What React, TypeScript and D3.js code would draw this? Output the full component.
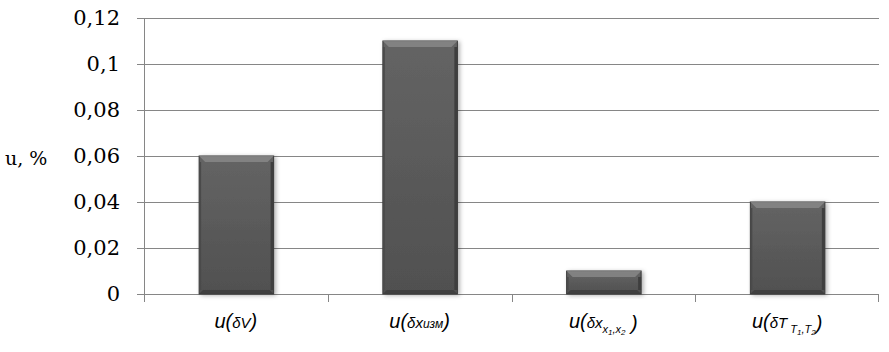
import { useEffect, useRef } from "react"
import * as d3 from "d3"

const categories = ["dV", "dXizm", "dXx1x2", "dTT1T2"]
const values = [0.06, 0.11, 0.01, 0.04]
const yTicks = [0, 0.02, 0.04, 0.06, 0.08, 0.1, 0.12]

const SERIF = "'DejaVu Serif', serif"

// label parts: [text, fontSize, dy]
const labelParts: Array<Array<[string, number, number]>> = [
  [["u", 20, 0], ["(", 20, 0], ["δV", 15, 0], [")", 20, 0]],
  [["u", 20, 0], ["(", 20, 0], ["δx", 15, 0], ["изм", 12, 0], [")", 20, 0]],
  [["u", 20, 0], ["(", 20, 0], ["δx", 15, 0], ["x", 11, 5], ["1", 8, 2], [",x", 11, -2], ["2", 8, 2], [" )", 20, -5]],
  [["u", 20, 0], ["(", 20, 0], ["δT", 15, 0], [" T", 11, 5], ["1", 8, 2], [",T", 11, -2], ["2", 8, 2], [")", 20, -5]],
]

export default function App() {
  const svgRef = useRef<SVGSVGElement>(null)

  useEffect(() => {
    if (!svgRef.current) return
    const W = 889
    const H = 352
    const margin = { top: 18, right: 10, bottom: 58, left: 144 }
    const width = W - margin.left - margin.right
    const height = H - margin.top - margin.bottom

    const root = d3.select(svgRef.current)
    root.selectAll("*").remove()
    root.attr("width", W).attr("height", H)

    const defs = root.append("defs")
    const grad = defs.append("linearGradient").attr("id", "barGrad")
      .attr("x1", "0%").attr("y1", "0%").attr("x2", "0%").attr("y2", "100%")
    grad.append("stop").attr("offset", "0%").attr("stop-color", "#646464")
    grad.append("stop").attr("offset", "100%").attr("stop-color", "#505050")
    const sh = defs.append("filter").attr("id", "shadow").attr("x", "-20%").attr("y", "-20%").attr("width", "150%").attr("height", "140%")
    sh.append("feDropShadow").attr("dx", 2).attr("dy", 1).attr("stdDeviation", 2).attr("flood-color", "#000").attr("flood-opacity", 0.3)

    const g = root.append("g").attr("transform", `translate(${margin.left},${margin.top})`)

    const x = d3.scaleBand().domain(categories).range([0, width]).paddingInner(0.6).paddingOuter(0.3)
    const y = d3.scaleLinear().domain([0, 0.12]).range([height, 0])

    // gridlines
    g.selectAll("line.grid").data(yTicks).enter().append("line")
      .attr("x1", -7).attr("x2", width)
      .attr("y1", d => Math.round(y(d)) + 0.5).attr("y2", d => Math.round(y(d)) + 0.5)
      .attr("stroke", "#868686").attr("stroke-width", 1)

    // y axis line
    g.append("line").attr("x1", 0.5).attr("x2", 0.5).attr("y1", 0).attr("y2", height + 7)
      .attr("stroke", "#868686")

    // category boundary ticks
    const step = width / categories.length
    d3.range(categories.length + 1).forEach(i => {
      const xx = Math.round(i * step) - (i === categories.length ? 1 : 0) + 0.5
      g.append("line").attr("x1", xx).attr("x2", xx).attr("y1", height).attr("y2", height + 8)
        .attr("stroke", "#868686")
    })

    // y labels
    g.selectAll("text.ytick").data(yTicks).enter().append("text")
      .attr("x", -24).attr("y", d => y(d))
      .attr("dy", "0.35em")
      .attr("text-anchor", "end")
      .style("font-family", SERIF)
      .attr("font-size", 21)
      .attr("fill", "#000")
      .text(d => d === 0 ? "0" : String(d).replace(".", ","))

    root.append("text").attr("x", 5).attr("y", 165)
      .style("font-family", SERIF)
      .attr("font-size", 19).text("u, %")

    // bars
    const bars = g.selectAll("g.bar").data(values).enter().append("g")
      .attr("class", "bar")
    bars.append("rect")
      .attr("x", (_d, i) => x(categories[i])!)
      .attr("y", d => y(d))
      .attr("width", x.bandwidth() + 1)
      .attr("height", d => height - y(d))
      .attr("fill", "url(#barGrad)")
      .attr("stroke", "#3a3a3a").attr("stroke-width", 1)
      .attr("filter", "url(#shadow)")
    // top bevel
    bars.append("polygon")
      .attr("points", (d, i) => {
        const x0 = x(categories[i])!, x1 = x0 + x.bandwidth() + 1, y0 = y(d), b = 6
        return `${x0},${y0} ${x1},${y0} ${x1 - b},${y0 + b} ${x0 + b},${y0 + b}`
      })
      .attr("fill", "#8a8a8a").attr("opacity", 0.8)
    // bottom bevel
    bars.append("polygon")
      .attr("points", (_d, i) => {
        const x0 = x(categories[i])!, x1 = x0 + x.bandwidth() + 1, y1 = height, b = 4
        return `${x0},${y1} ${x1},${y1} ${x1 - b},${y1 - b} ${x0 + b},${y1 - b}`
      })
      .attr("fill", "#3c3c3c").attr("opacity", 0.8)
    // side bevels
    bars.append("rect")
      .attr("x", (_d, i) => x(categories[i])! + x.bandwidth() - 2)
      .attr("y", d => y(d) + 6)
      .attr("width", 3).attr("height", d => Math.max(0, height - y(d) - 10))
      .attr("fill", "#3e3e3e")
    bars.append("rect")
      .attr("x", (_d, i) => x(categories[i])!)
      .attr("y", d => y(d) + 6)
      .attr("width", 2).attr("height", d => Math.max(0, height - y(d) - 10))
      .attr("fill", "#4a4a4a")

    // category labels
    categories.forEach((c, i) => {
      const cx = x(c)! + x.bandwidth() / 2
      const t = g.append("text").attr("x", cx).attr("y", height + 34)
        .attr("text-anchor", "middle")
        .style("font-family", "'Liberation Sans', sans-serif")
        .attr("font-style", "italic")
        .attr("fill", "#000")
      labelParts[i].forEach(([s, fs, dy]) => {
        t.append("tspan").attr("dy", dy).attr("font-size", fs).text(s)
      })
    })
  }, [])

  return (
    <div style={{ position: "absolute", left: 0, top: 0, background: "#fff" }}>
      <svg ref={svgRef} style={{ display: "block" }} />
    </div>
  )
}
